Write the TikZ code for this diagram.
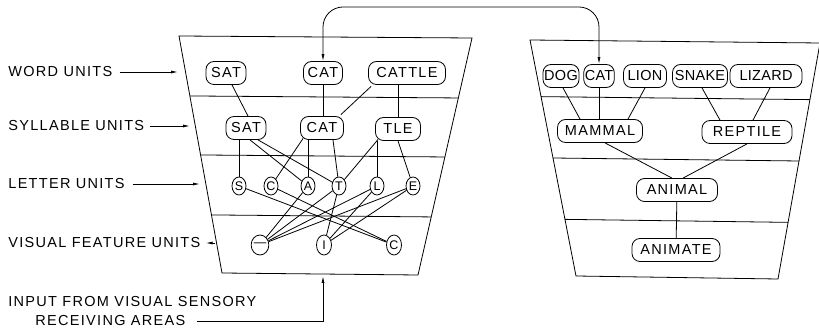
\documentclass[tikz,border=0pt]{standalone}
\usepackage{fontspec}
\setmainfont{Liberation Sans}[LetterSpace=9]
\newfontfamily\tightfont{Liberation Sans}[LetterSpace=2]
\usetikzlibrary{arrows.meta,calc,shapes.geometric}

\begin{document}
\begin{tikzpicture}[x=1pt,y=-1pt, line width=0.8pt,
  every node/.style={font=\fontsize{14.5}{16}\selectfont},
  unit/.style={draw, fill=white, rounded corners=8pt, minimum height=23pt,
    inner xsep=3pt, inner ysep=0pt},
  runit/.style={unit, font=\tightfont\fontsize{14.5}{16}\selectfont, inner xsep=1pt},
  letter/.style={draw, fill=white, ellipse, minimum width=14pt, minimum height=18pt,
    inner sep=0pt, font=\tightfont\fontsize{12.5}{14}\selectfont},
  feature/.style={letter, minimum width=15pt, minimum height=20pt},
  lbl/.style={anchor=west, inner sep=0pt},
  arr/.style={-{Latex[length=7pt,width=3pt]}}
]
\useasboundingbox (0,0) rectangle (819,328);

% ---------- left network: word / syllable / letter / feature levels ----------
\coordinate (LTL) at (179,36);  \coordinate (LTR) at (472,38);
\coordinate (LBR) at (418,275); \coordinate (LBL) at (222,273);
\draw (LTL) -- (LTR) -- (LBR) -- (LBL) -- cycle;
\foreach \t in {0.253,0.502,0.755}
  \draw ($(LTL)!\t!(LBL)$) -- ($(LTR)!\t!(LBR)$);

% ---------- right network: semantic levels ----------
\coordinate (RTL) at (530,40);  \coordinate (RTR) at (820,43);
\coordinate (RBR) at (778,279); \coordinate (RBL) at (576,276);
\draw (RTL) -- (RTR) -- (RBR) -- (RBL) -- cycle;
\foreach \t in {0.24,0.5,0.76}
  \draw ($(RTL)!\t!(RBL)$) -- ($(RTR)!\t!(RBR)$);

% word units
\node[unit, minimum width=40pt] (SATw)   at (226,73) {SAT};
\node[unit, minimum width=39pt] (CATw)   at (323,73) {CAT};
\node[unit, minimum width=77pt] (CATTLE) at (407,73) {CATTLE};
% syllable units
\node[unit, minimum width=40pt] (SATs) at (246,128) {SAT};
\node[unit, minimum width=43pt] (CATs) at (322,128) {CAT};
\node[unit, minimum width=45pt] (TLE)  at (398,129) {TLE};
% letter units
\node[letter] (S) at (239,186) {S};
\node[letter] (C) at (271,186) {C};
\node[letter] (A) at (308,186) {A};
\node[letter] (T) at (339,186) {T};
\node[letter] (L) at (377,186) {L};
\node[letter] (E) at (413,186) {E};
% visual feature units
\node[feature] (Fdash) at (260,245) {—};
\node[feature] (FI)    at (324,245) {I};
\node[feature] (FC)    at (394,245) {C};

% semantic units
\node[runit, minimum width=36pt] (DOG)    at (561,76) {DOG};
\node[runit, minimum width=27pt] (CATr)   at (599,76) {CAT};
\node[runit, minimum width=43pt] (LION)   at (645,76) {LION};
\node[runit, minimum width=55pt] (SNAKE)  at (700,76) {SNAKE};
\node[runit, minimum width=72pt] (LIZARD) at (766,76) {LIZARD};
\node[unit, minimum width=85pt] (MAMMAL)  at (600,131) {MAMMAL};
\node[unit, minimum width=90pt] (REPTILE) at (747,132) {REPTILE};
\node[unit, minimum width=81pt] (ANIMAL)  at (677,190) {ANIMAL};
\node[unit, minimum width=88pt] (ANIMATE) at (676,250) {ANIMATE};

% word -> syllable links
\draw ([xshift=6pt]SATw.south) -- ([xshift=2pt]SATs.north);
\draw (CATw) -- (CATw |- CATs.north);
\draw ([xshift=3pt,yshift=-1.5pt]CATTLE.south west) -- ([xshift=-3pt,yshift=1.5pt]CATs.north east);
\draw (CATTLE.south -| TLE) -- (TLE.north);
% syllable -> letter links
\draw (SATs.south -| S) -- (S);
\draw ([xshift=4pt]SATs.south) -- (A);
\draw ([xshift=12pt]SATs.south) -- (T);
\draw ([xshift=3pt,yshift=1.5pt]CATs.south west) -- (C);
\draw (CATs.south -| A) -- (A);
\draw ([xshift=11pt]CATs.south) -- (T);
\draw ([xshift=3pt,yshift=1.5pt]TLE.south west) -- (T);
\draw (TLE.south -| L) -- (L);
\draw (TLE.south) -- (E);
% letter -> feature links
\foreach \l in {S,C} \draw (\l) -- (FC);
\foreach \l in {A,T,L,E} \draw (\l) -- (Fdash);
\foreach \l in {T,L,E} \draw (\l) -- (FI);

% semantic links
\draw ([xshift=2pt]DOG.south) -- ([xshift=-20pt]MAMMAL.north);
\draw (CATr) -- (CATr |- MAMMAL.north);
\draw (LION.south) -- ([xshift=28pt]MAMMAL.north);
\draw ([xshift=2pt]SNAKE.south) -- ([xshift=-27pt]REPTILE.north);
\draw ([xshift=4pt]LIZARD.south) -- ([xshift=6pt]REPTILE.north);
\draw ([xshift=5pt]MAMMAL.south) -- ([xshift=-5pt]ANIMAL.north);
\draw (REPTILE.south) -- ([xshift=6pt]ANIMAL.north);
\draw (ANIMAL) -- (ANIMATE);

% link between the two CAT units
\coordinate (rail) at (0,7);
\draw[{Latex[length=7pt,width=3pt]}-{Latex[length=7pt,width=3pt]}, rounded corners=20pt]
  (CATw.north) -- (CATw.north |- rail) -- (CATr.north |- rail) -- (CATr.north);

% level labels
\node[lbl] (wordlbl) at (8,72)  {WORD UNITS};
\node[lbl] (syllbl)  at (8,126) {SYLLABLE UNITS};
\node[lbl] (letlbl)  at (8,184) {LETTER UNITS};
\node[lbl] (featlbl) at (8,243) {VISUAL FEATURE UNITS};
\node[lbl] (inlbl)   at (8,302) {INPUT FROM VISUAL SENSORY};
\node[lbl] (recv)    at (35,321) {RECEIVING AREAS};

\coordinate (wordTip) at (178,72);
\coordinate (sylTip)  at (190,126);
\coordinate (letTip)  at (200,184);
\coordinate (featEnd) at (215,243);
\coordinate (inTip)   at (323,276);
\draw[arr] ([xshift=7pt]wordlbl.east) -- (wordTip);
\draw[arr] ([xshift=5pt]syllbl.east) -- (sylTip);
\draw[arr] ([xshift=8pt]letlbl.east) -- (letTip);
\draw[arr] (featEnd) -- ([xshift=5pt]featlbl.east);
\draw[arr] ([xshift=11pt]recv.east) -| (inTip);
\end{tikzpicture}
\end{document}
